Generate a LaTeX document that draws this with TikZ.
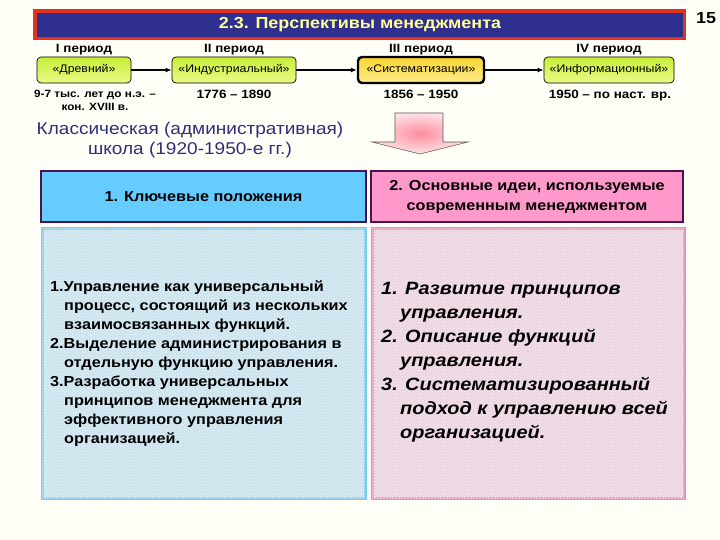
\documentclass[tikz,border=0pt]{standalone}
\usepackage{fontspec}
\setmainfont{Liberation Sans}[FakeStretch=1.12]
\usetikzlibrary{arrows.meta,shadings,patterns}
\definecolor{bgcol}{HTML}{FFFFF8}
\definecolor{titlered}{HTML}{E0321E}
\definecolor{titleblue}{HTML}{2F2F8F}
\definecolor{titleyellow}{HTML}{FFFF99}
\definecolor{grnT}{HTML}{C6EE38}
\definecolor{grnB}{HTML}{ECFA88}
\definecolor{yelT}{HTML}{F9D430}
\definecolor{yelB}{HTML}{FFEC8C}
\definecolor{navy}{HTML}{2E2E7A}
\definecolor{hdrblue}{HTML}{66CCFF}
\definecolor{hdrpink}{HTML}{FF99CC}
\definecolor{hdrborder}{HTML}{4A1450}
\definecolor{cblueF}{HTML}{DFF0F7}
\definecolor{cblueP}{HTML}{C6E0EC}
\definecolor{cblueB}{HTML}{7CCCF0}
\definecolor{cpinkF}{HTML}{F7E8EF}
\definecolor{cpinkP}{HTML}{E8CEDB}
\definecolor{cpinkB}{HTML}{F08CBE}
\definecolor{arrowin}{HTML}{FF8CA0}
\definecolor{arrowout}{HTML}{FFE2E6}
\tikzset{
  periodbox/.style={rounded corners=4pt, draw=black, line width=0.7pt, minimum height=26pt,
    inner sep=0pt, font=\fontsize{11}{13}\selectfont, top color=grnT, bottom color=grnB},
  sysbox/.style={periodbox, line width=2.4pt, top color=yelT, bottom color=yelB},
  plabel/.style={font=\bfseries\fontsize{12}{14}\selectfont},
  dlabel/.style={font=\bfseries\fontsize{12}{14}\selectfont, anchor=base},
  dsmall/.style={font=\bfseries\fontsize{10.5}{13}\selectfont, align=center},
  conn/.style={line width=1.4pt, -{Latex[length=6pt,width=5pt]}},
  hdrbox/.style={draw=hdrborder, line width=1.6pt, inner sep=0pt},
  hdrtext/.style={font=\bfseries\fontsize{14.5}{20}\selectfont, align=center},
}
\begin{document}
\begin{tikzpicture}[x=1pt,y=-1pt]
\useasboundingbox (0,0) rectangle (720,540);
\fill[bgcol] (0,0) rectangle (720,540);

% title bar
\fill[titlered] (33,9) rectangle (686,40);
\fill[titleblue] (37,13) rectangle (683,37);
\node[text=titleyellow, font=\bfseries\fontsize{16}{18}\selectfont] (title) at (360,25) {2.3. Перспективы менеджмента};
\node[font=\bfseries\fontsize{16}{18}\selectfont] (pg) at (706,18) {15};

% periods
\node[plabel] (p1) at (84,50) {I период};
\node[plabel] (p2) at (234,50) {II период};
\node[plabel] (p3) at (421,50) {III период};
\node[plabel] (p4) at (609,50) {IV период};

\node[periodbox, minimum width=94pt] (b1) at (84,70) {«Древний»};
\node[periodbox, minimum width=124pt] (b2) at (234,70) {«Индустриальный»};
\node[sysbox, minimum width=126pt] (b3) at (421,70) {«Систематизации»};
\node[periodbox, minimum width=130pt] (b4) at (609,70) {«Информационный»};

\draw[conn] (b1) -- (b2);
\draw[conn] (b2) -- (b3);
\draw[conn] (b3) -- (b4);

\node[dsmall] (d1) at (95,100) {9-7 тыс. лет до н.э. –\\кон. XVIII в.};
\node[dlabel] (d2) at (234,99) {1776 – 1890};
\node[dlabel] (d3) at (421,99) {1856 – 1950};
\node[dlabel] (d4) at (610,99) {1950 – по наст. вр.};

% classical school
\node[text=navy, font=\fontsize{17}{20}\selectfont, align=center] (cls) at (190,140)
  {Классическая (административная)\\школа (1920-1950-е гг.)};

% block arrow
\path[draw=gray!70!black, line width=0.6pt, shading=radial, inner color=arrowin, outer color=arrowout]
  (395,113) -- (443,113) -- (443,142) -- (468,142) -- (420,154) -- (372,142) -- (395,142) -- cycle;

% headers
\draw[hdrbox, fill=hdrblue] (41,171) rectangle (366,222);
\node[hdrtext] (h1) at (203.5,196.5) {1. Ключевые положения};
\draw[hdrbox, fill=hdrpink] (371,171) rectangle (683,222);
\node[hdrtext] (h2) at (527,196.5) {2. Основные идеи, используемые\\современным менеджментом};

% content boxes
\draw[draw=cblueB, line width=3pt, fill=cblueF, postaction={pattern=crosshatch, pattern color=cblueP}] (42,229) rectangle (365,498);
\draw[draw=cpinkB, line width=3pt, fill=cpinkF, postaction={pattern=crosshatch, pattern color=cpinkP}] (372,229) rectangle (684,498);

\node[anchor=north west, inner sep=0pt, align=left, font=\bfseries\fontsize{14.5}{19}\selectfont] (c1) at (50,281)
 {1.Управление как универсальный\\
  \hspace*{14pt}процесс, состоящий из нескольких\\
  \hspace*{14pt}взаимосвязанных функций.\\
  2.Выделение администрирования в\\
  \hspace*{14pt}отдельную функцию управления.\\
  3.Разработка универсальных\\
  \hspace*{14pt}принципов менеджмента для\\
  \hspace*{14pt}эффективного управления\\
  \hspace*{14pt}организацией.};

\node[anchor=north west, inner sep=0pt, align=left, font=\bfseries\itshape\fontsize{17.8}{24}\selectfont] (c2) at (381,282)
 {1. Развитие принципов\\
  \hspace*{19pt}управления.\\
  2. Описание функций\\
  \hspace*{19pt}управления.\\
  3. Систематизированный\\
  \hspace*{19pt}подход к управлению всей\\
  \hspace*{19pt}организацией.};
\end{tikzpicture}
\end{document}
